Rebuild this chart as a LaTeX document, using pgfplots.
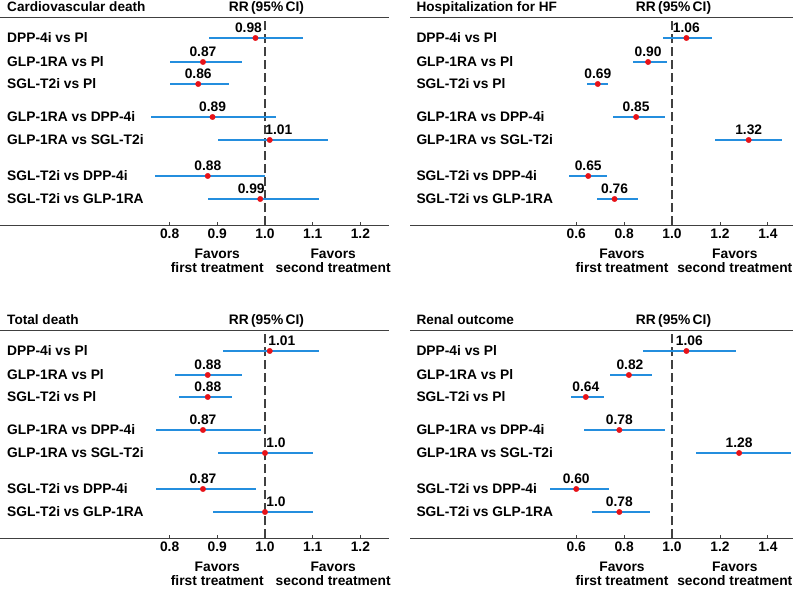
\documentclass[border=0pt]{standalone}
\usepackage{fontspec}
\setmainfont{Liberation Sans}
\usepackage{pgfplots}
\usepackage{pgfplotstable}
\pgfplotsset{compat=1.18}

\definecolor{cblue}{RGB}{36,142,222}
\definecolor{cred}{RGB}{232,18,24}
\definecolor{axgray}{RGB}{64,64,64}

\newcommand\lab{\bfseries\fontsize{13.8}{14.3}\selectfont}
\newcommand\ttl{\bfseries\fontsize{13.6}{16}\selectfont}

% columns: row position, RR, lower CI, upper CI, label, label shift
\pgfplotstableread{
y     rr    lo     hi     lab   dx
187.5 0.98  0.883  1.080  0.98  -7
163.5 0.87  0.801  0.952  0.87  0
141.5 0.86  0.801  0.924  0.86  0
108.5 0.89  0.760  1.024  0.89  0
85.5  1.01  0.902  1.133  1.01  9
49.5  0.88  0.770  1.000  0.88  0
26.5  0.99  0.881  1.113  0.99  -9
}\cvdeath
\pgfplotstableread{
y     rr    lo     hi     lab   dx
187.5 1.06  0.964  1.168  1.06  0
163.5 0.90  0.836  0.980  0.90  0
141.5 0.69  0.646  0.734  0.69  0
108.5 0.85  0.755  0.971  0.85  0
85.5  1.32  1.180  1.461  1.32  0
49.5  0.65  0.570  0.729  0.65  0
26.5  0.76  0.685  0.856  0.76  0
}\hhf
\pgfplotstableread{
y     rr    lo     hi     lab   dx
187.5 1.01  0.913  1.113  1.01  12
163.5 0.88  0.811  0.952  0.88  0
141.5 0.88  0.820  0.931  0.88  0
108.5 0.87  0.771  0.992  0.87  0
85.5  1.00  0.902  1.101  1.0   11
49.5  0.87  0.771  0.982  0.87  0
26.5  1.00  0.890  1.101  1.0   11
}\totdeath
\pgfplotstableread{
y     rr    lo     hi     lab   dx
187.5 1.06  0.880  1.267  1.06  3
163.5 0.82  0.742  0.917  0.82  1
141.5 0.64  0.578  0.718  0.64  0
108.5 0.78  0.631  0.969  0.78  0
85.5  1.28  1.099  1.496  1.28  0
49.5  0.60  0.490  0.736  0.60  0
26.5  0.78  0.664  0.909  0.78  0
}\renal

\pgfplotsset{
  forest/.style={
    scale only axis, height=208pt, ymin=0, ymax=208, clip=false,
    separate axis lines,
    y axis line style={draw=none},
    x axis line style={draw=axgray, line width=1.6pt},
    ytick={187.5,163.5,141.5,108.5,85.5,49.5,26.5},
    yticklabels={DPP-4i vs Pl, GLP-1RA vs Pl, SGL-T2i vs Pl, GLP-1RA vs DPP-4i,
      GLP-1RA vs SGL-T2i, SGL-T2i vs DPP-4i, SGL-T2i vs GLP-1RA},
    ytick style={draw=none},
    yticklabel style={anchor=west, inner sep=0pt, font=\lab},
    xtick pos=bottom, xtick align=inside, major tick length=3pt,
    xtick style={draw=axgray, line width=0.9pt},
    xticklabel style={font=\lab},
    /pgf/number format/assume math mode=true,
  },
  left panel/.style={forest, width=389pt, xmin=0.4444, xmax=1.26,
    xtick={0.8,0.9,1.0,1.1,1.2}, xticklabels={0.8,0.9,1.0,1.1,1.2},
    yticklabel style={xshift=7pt}},
  right panel/.style={forest, width=383pt, xmin=-0.094, xmax=1.505,
    xtick={0.6,0.8,1.0,1.2,1.4}, xticklabels={0.6,0.8,1.0,1.2,1.4},
    yticklabel style={xshift=6.3pt}},
  ci plot/.style={only marks, mark=none, forget plot, draw=cblue,
    error bars/.cd, x dir=both, x explicit, error mark=none,
    error bar style={draw=cblue, line width=2pt, line cap=butt}},
  rr plot/.style={only marks, mark=*, mark size=2.7pt, color=cred,
    mark options={line width=0.4pt},
    nodes near coords, point meta=explicit symbolic,
    visualization depends on={\thisrow{dx}\as\dx},
    nodes near coords style={font=\lab, text=black, anchor=south,
      yshift=2pt, xshift=\dx pt}},
}

\newcommand\decor[4]{% title, xshift, left favors x, right favors x
  \draw[axgray, line width=1.1pt, dash pattern=on 9pt off 4pt]
    (axis cs:1,0) -- (axis cs:1,208);
  \node[anchor=base west, font=\ttl, inner sep=0pt, xshift=#2, yshift=5.5pt]
    at (axis description cs:0,1) {#1};
  \node[anchor=base, font=\lab, inner sep=0pt, xshift=1.5pt, yshift=5.5pt]
    at (axis cs:1,208) {RR\,(95\%\,CI)};
  \node[anchor=north, align=center, font=\lab, inner sep=0pt, yshift=-23.5pt]
    at (axis cs:#3,0) {Favors\\first treatment};
  \node[anchor=north, align=center, font=\lab, inner sep=0pt, yshift=-23.5pt]
    at (axis cs:#4,0) {Favors\\second treatment};
}

\newcommand\forest[1]{%
  \addplot[ci plot] table[x=rr, y=y,
    x error plus expr=\thisrow{hi}-\thisrow{rr},
    x error minus expr=\thisrow{rr}-\thisrow{lo}] {#1};
  \addplot[rr plot] table[x=rr, y=y, meta=lab] {#1};
}

\begin{document}
\begin{tikzpicture}
\begin{axis}[left panel, at={(0pt,363.5pt)}, anchor=south west]
  \decor{Cardiovascular death}{7pt}{0.9}{1.143}
  \forest{\cvdeath}
\end{axis}

\begin{axis}[right panel, at={(410pt,363.5pt)}, anchor=south west]
  \decor{Hospitalization for HF}{6.3pt}{0.791}{1.262}
  \forest{\hhf}
\end{axis}

\begin{axis}[left panel, at={(0pt,50.5pt)}, anchor=south west]
  \decor{Total death}{7pt}{0.9}{1.143}
  \forest{\totdeath}
\end{axis}

\begin{axis}[right panel, at={(410pt,50.5pt)}, anchor=south west]
  \decor{Renal outcome}{6.3pt}{0.791}{1.262}
  \forest{\renal}
\end{axis}

\pgfresetboundingbox
\path (0pt,0pt) rectangle (796pt,589pt);
\end{tikzpicture}
\end{document}
